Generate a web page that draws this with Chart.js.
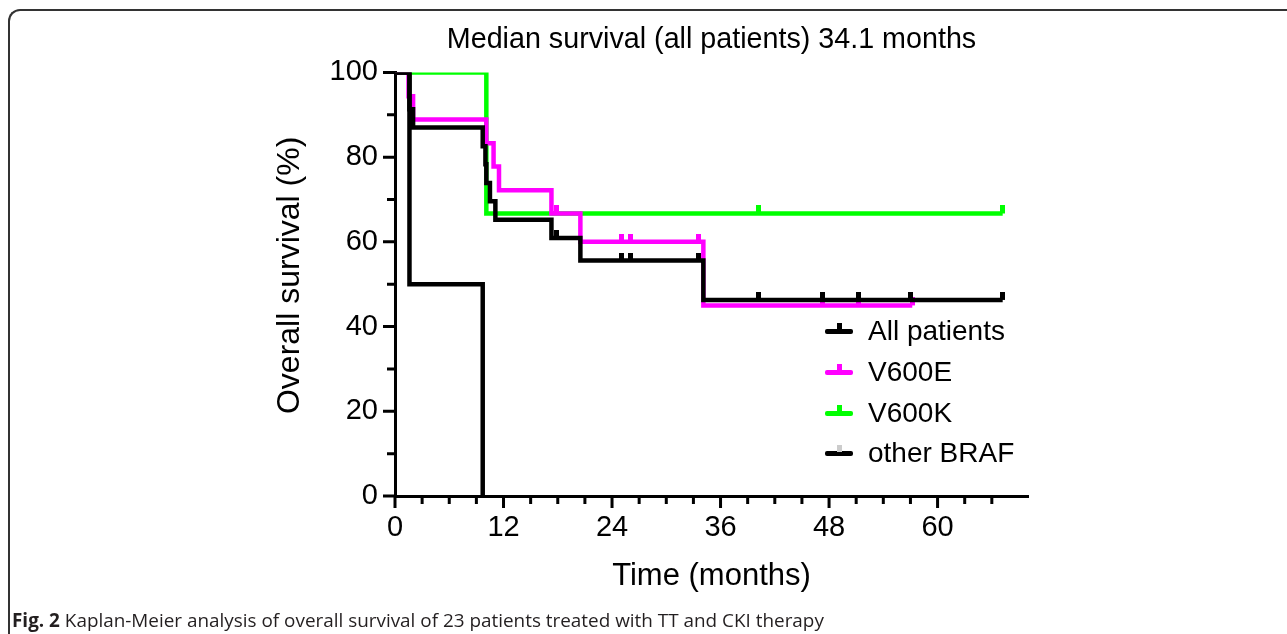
<!DOCTYPE html>
<html>
<head>
<meta charset="utf-8">
<script src="https://cdn.jsdelivr.net/npm/chart.js@4.4.1/dist/chart.umd.min.js"></script>
<style>
  html, body { margin: 0; padding: 0; background: #fff; }
  body { width: 1287px; height: 634px; position: relative; overflow: hidden; font-family: "Liberation Sans", Arial, sans-serif; }
  #frame { position: absolute; left: 8px; top: 9px; width: 1400px; height: 800px; border-top: 2px solid #333; border-left: 2px solid #333; border-top-left-radius: 12px; }
  #chart-wrap { position: absolute; left: 0; top: 0; width: 1287px; height: 634px; }
  #legend { position: absolute; left: 825px; top: 0; }
  .row { position: absolute; left: 0; height: 40px; line-height: 40px; font-size: 28px; color: #000; white-space: nowrap; }
  .row .ln { position: absolute; left: 0; top: 18px; width: 28px; height: 4.5px; border-radius: 2px; }
  .row .tk { position: absolute; left: 12px; top: 12px; width: 5px; height: 7px; }
  .row .lb { position: absolute; left: 43px; top: 0; }
  #caption { position: absolute; left: 12px; top: 609px; font-family: "Open Sans", sans-serif; font-size: 18.9px; line-height: 22px; color: #231f20; white-space: nowrap; }
</style>
</head>
<body>
<div id="frame"></div>
<div id="chart-wrap"><canvas id="km-chart"></canvas></div>
<div id="legend"></div>
<div id="caption"><b>Fig. 2</b> Kaplan-Meier analysis of overall survival of 23 patients treated with TT and CKI therapy</div>
<script>
// survival data (months, % surviving, 1 = censored)
const allTime = [0, 1.6, 2.0, 9.7, 10.0, 10.1, 10.5, 11.1, 17.3, 17.9, 20.5, 25.0, 26.0, 33.6, 34.1, 40.2, 47.3, 51.3, 57.0, 67.2];
const allSurv = [100, 91.3, 87.0, 82.6, 78.3, 73.9, 69.6, 65.2, 60.9, 60.9, 55.6, 55.6, 55.6, 55.6, 46.3, 46.3, 46.3, 46.3, 46.3, 46.3];
const allCens = [0, 0, 0, 0, 0, 0, 0, 0, 0, 1, 0, 1, 1, 1, 0, 1, 1, 1, 1, 1];

const v600eTime = [0, 1.5, 2.0, 10.1, 10.9, 11.5, 17.3, 17.9, 20.5, 25.0, 26.0, 33.6, 34.1, 47.3, 51.3, 57.2];
const v600eSurv = [100, 94.4, 88.9, 83.3, 77.8, 72.2, 66.7, 66.7, 60.0, 60.0, 60.0, 60.0, 45.0, 45.0, 45.0, 45.0];
const v600eCens = [0, 0, 0, 0, 0, 0, 0, 1, 0, 1, 1, 1, 0, 1, 1, 1];

const v600kTime = [0, 10.1, 40.2, 67.2];
const v600kSurv = [100, 66.7, 66.7, 66.7];
const v600kCens = [0, 0, 1, 1];

const otherTime = [0, 1.6, 9.7];
const otherSurv = [100, 50, 0];
const otherCens = [0, 0, 0];

const seriesNames = ["All patients", "V600E", "V600K", "other BRAF"];
const seriesColors = ["#000000", "#ff00ff", "#00ff00", "#000000"];
const tickColors = ["#000000", "#ff00ff", "#00ff00", "#cccccc"];

const FONT = "'Liberation Sans', Arial, sans-serif";

function makeSeries(times, surv, cens) {
  return times.map((t, i) => ({ x: t, y: surv[i], c: cens[i] }));
}

// censor mark: small bar sticking up from the line
function makeCensorMark(color) {
  const c = document.createElement("canvas");
  c.width = 5;
  c.height = 16;
  const g = c.getContext("2d");
  g.fillStyle = color;
  g.fillRect(0, 0, 5, 8);
  return c;
}

function kmDataset(i, times, surv, cens, order) {
  return {
    label: seriesNames[i],
    data: makeSeries(times, surv, cens),
    borderColor: seriesColors[i],
    backgroundColor: seriesColors[i],
    borderWidth: 4.5,
    stepped: true,
    fill: false,
    order: order,
    pointStyle: makeCensorMark(tickColors[i]),
    pointRadius: (ctx) => (ctx.raw && ctx.raw.c ? 3 : 0),
  };
}

// axis tick marks, long at labelled values
const tickMarks = {
  id: "tickMarks",
  afterDraw(chart) {
    const ctx = chart.ctx;
    const xs = chart.scales.x;
    const ys = chart.scales.y;
    ctx.save();
    ctx.strokeStyle = "#000";
    ctx.lineWidth = 3;
    ctx.beginPath();
    xs.ticks.forEach((t) => {
      if (t.value % 3 !== 0) return;
      const px = xs.getPixelForValue(t.value);
      const len = t.value % 12 === 0 ? 12 : 8;
      ctx.moveTo(px, xs.top);
      ctx.lineTo(px, xs.top + len);
    });
    ys.ticks.forEach((t) => {
      const py = ys.getPixelForValue(t.value);
      const len = t.value % 20 === 0 ? 12 : 8;
      ctx.moveTo(ys.right, py);
      ctx.lineTo(ys.right - len, py);
    });
    ctx.stroke();
    ctx.restore();
  },
};

function buildLegend() {
  const legend = document.getElementById("legend");
  const rowCenters = [331, 372, 413, 453];
  seriesNames.forEach((name, i) => {
    const row = document.createElement("div");
    row.className = "row";
    row.style.top = rowCenters[i] - 20 + "px";
    row.innerHTML =
      `<span class="ln" style="background:${seriesColors[i]}"></span>` +
      `<span class="tk" style="background:${tickColors[i]}"></span>` +
      `<span class="lb">${name}</span>`;
    legend.appendChild(row);
  });
}

function createChart() {
  const canvas = document.getElementById("km-chart");
  new Chart(canvas, {
    type: "line",
    data: {
      datasets: [
        kmDataset(0, allTime, allSurv, allCens, 0),
        kmDataset(3, otherTime, otherSurv, otherCens, 1),
        kmDataset(1, v600eTime, v600eSurv, v600eCens, 2),
        kmDataset(2, v600kTime, v600kSurv, v600kCens, 3),
      ],
    },
    options: {
      responsive: true,
      maintainAspectRatio: false,
      animation: false,
      events: [],
      layout: { padding: { left: 267, right: 259, top: 23, bottom: 38 } },
      scales: {
        x: {
          type: "linear",
          min: 0,
          max: 70,
          grid: { display: false, drawTicks: false },
          border: { display: true, color: "#000", width: 3 },
          ticks: {
            stepSize: 3,
            autoSkip: false,
            maxRotation: 0,
            padding: 15,
            color: "#000",
            font: { family: FONT, size: 29 },
            callback: (v) => (v % 12 === 0 ? v : ""),
          },
          title: {
            display: true,
            text: "Time (months)",
            color: "#000",
            font: { family: FONT, size: 31 },
            padding: { top: 4, bottom: 1 },
          },
          afterFit: (s) => {
            s.height = 100;
          },
        },
        y: {
          min: 0,
          max: 100,
          grid: { display: false, drawTicks: false },
          border: { display: true, color: "#000", width: 3 },
          ticks: {
            stepSize: 10,
            autoSkip: false,
            padding: 17,
            color: "#000",
            font: { family: FONT, size: 29 },
            callback: (v) => (v % 20 === 0 ? v : ""),
          },
          title: {
            display: true,
            text: "  Overall survival (%)",
            color: "#000",
            font: { family: FONT, size: 32 },
            padding: { top: 4, bottom: 4 },
          },
          afterFit: (s) => {
            s.width = 128;
          },
        },
      },
      plugins: {
        legend: { display: false },
        tooltip: { enabled: false },
        title: {
          display: true,
          fullSize: false,
          text: "Median survival (all patients) 34.1 months",
          color: "#000",
          font: { family: FONT, size: 28.7, weight: "normal" },
          padding: { top: 0, bottom: 15 },
        },
      },
    },
    plugins: [tickMarks],
  });
}

buildLegend();
createChart();
</script>
</body>
</html>
